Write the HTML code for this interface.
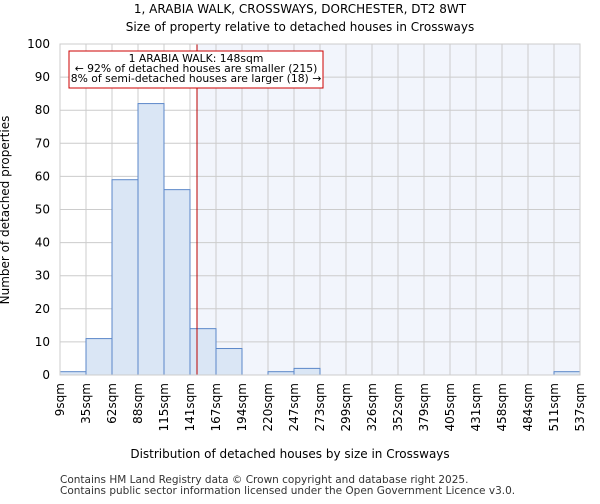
<!DOCTYPE html>
<html><head><meta charset="utf-8"><style>body{margin:0;background:#fff;font-family:"DejaVu Sans","Liberation Sans",sans-serif}</style></head>
<body>
<svg id="c" width="600" height="500" xmlns="http://www.w3.org/2000/svg" font-family="DejaVu Sans, Liberation Sans, sans-serif">
<text x="300" y="13" font-size="12" text-anchor="middle">1, ARABIA WALK, CROSSWAYS, DORCHESTER, DT2 8WT</text>
<text x="300" y="31" font-size="12" text-anchor="middle">Size of property relative to detached houses in Crossways</text>
<g id="plot"></g>
<text x="290" y="458" font-size="12" text-anchor="middle">Distribution of detached houses by size in Crossways</text>
<text transform="translate(9,210) rotate(-90)" font-size="12" text-anchor="middle">Number of detached properties</text>
<text x="60" y="483" font-size="10.5" fill="#333">Contains HM Land Registry data © Crown copyright and database right 2025.</text>
<text x="60" y="494" font-size="10.5" fill="#333">Contains public sector information licensed under the Open Government Licence v3.0.</text>
</svg>
<script>
const binLabels=["9sqm","35sqm","62sqm","88sqm","115sqm","141sqm","167sqm","194sqm","220sqm","247sqm","273sqm","299sqm","326sqm","352sqm","379sqm","405sqm","431sqm","458sqm","484sqm","511sqm","537sqm"];
const counts=[1,11,59,82,56,14,8,0,1,2,0,0,0,0,0,0,0,0,0,1];
const yTicks=[0,10,20,30,40,50,60,70,80,90,100];
const markerBin=5+(148-141)/26;
const NS="http://www.w3.org/2000/svg";
const L=60,R=580,T=44,B=375;
const bw=(R-L)/counts.length;
const x=i=>L+i*bw, y=v=>B-(v/100)*(B-T);
const g=document.getElementById('plot');
function mk(t,a,p){const e=document.createElementNS(NS,t);for(const k in a)e.setAttribute(k,a[k]);(p||g).appendChild(e);return e;}
const mx=x(markerBin);
let e=mk('rect',{x:mx,y:T,width:R-mx,height:B-T,fill:'#f2f5fc'});


yTicks.forEach(v=>{let l=mk('line',{x1:L,x2:R,y1:y(v),y2:y(v),stroke:'#ccc'});


let t=mk('text',{x:L-10,y:y(v)+4,'font-size':12,'text-anchor':'end'});t.textContent=v;

});
binLabels.forEach((s,i)=>{let l=mk('line',{x1:x(i),x2:x(i),y1:T,y2:B,stroke:'#ccc'});


let t=mk('text',{'font-size':12,'text-anchor':'end',transform:`translate(${x(i)+4},${B+8}) rotate(-90)`});t.textContent=s;

});
counts.forEach((v,i)=>{if(v<=0)return;let r=mk('rect',{x:x(i),y:y(v),width:bw,height:B-y(v),fill:'#dae6f5',stroke:'#5b87c9','stroke-width':1});

});
e=mk('line',{x1:mx,x2:mx,y1:T,y2:B,stroke:'#b00','stroke-width':1});


e=mk('rect',{x:69,y:51,width:254,height:37,fill:'#fff',stroke:'#c00'});


["1 ARABIA WALK: 148sqm","← 92% of detached houses are smaller (215)","8% of semi-detached houses are larger (18) →"].forEach((s,i)=>{let t=mk('text',{x:196,y:62+i*10,'font-size':10.8,'text-anchor':'middle'});t.textContent=s;

});
e=mk('rect',{x:L,y:T,width:R-L,height:B-T,fill:'none',stroke:'#ccc'});


</script>
</body></html>
